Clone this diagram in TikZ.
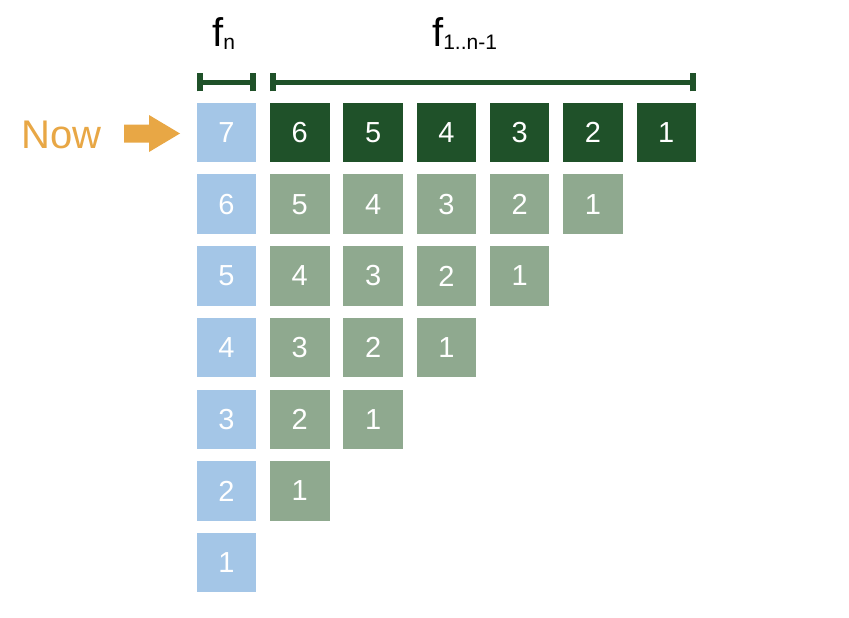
\documentclass[tikz,border=0pt]{standalone}
\usepackage{fontspec}
\setmainfont{Liberation Sans}
\definecolor{cblue}{HTML}{A4C6E7}
\definecolor{cdark}{HTML}{1F5129}
\definecolor{clight}{HTML}{8FA98F}
\definecolor{corange}{HTML}{E8A745}
\newcommand{\mysub}[1]{\raisebox{-3pt}{\fontsize{21}{24}\selectfont #1}}
\begin{document}
\begin{tikzpicture}[x=1pt,y=-1pt,
  cell/.style={minimum width=59.5pt,minimum height=59.5pt,inner sep=0pt,text=white,font=\fontsize{29}{32}\selectfont},
  bluecell/.style={cell,fill=cblue},
  darkcell/.style={cell,fill=cdark},
  lightcell/.style={cell,fill=clight},
  brk/.style={draw=cdark,line width=5pt},
  tick/.style={draw=cdark,line width=6pt},
  lbl/.style={font=\fontsize{40}{44}\selectfont,inner sep=0pt}]
\useasboundingbox (0,0) rectangle (849,618);
% blue column
\foreach \j in {0,...,6}{
  \pgfmathtruncatemacro{\v}{7-\j}
  \node[bluecell] (b\j) at (226.5,132.5+71.7*\j) {\v};
}
% dark row
\foreach \i in {1,...,6}{
  \pgfmathtruncatemacro{\v}{7-\i}
  \node[darkcell] (d\i) at (226.5+73.3*\i,132.5) {\v};
}
% light triangle
\foreach \j in {1,...,5}{
  \pgfmathtruncatemacro{\last}{6-\j}
  \foreach \i in {1,...,\last}{
    \pgfmathtruncatemacro{\v}{7-\j-\i}
    \node[lightcell] (l\j-\i) at (226.5+73.3*\i,132.5+71.7*\j) {\v};
  }
}
% brackets
\coordinate (a1) at (200,82.5);
\coordinate (a2) at (253,82.5);
\coordinate (c1) at (273,82.5);
\coordinate (c2) at (693,82.5);
\draw[brk] (a1) -- (a2);
\draw[tick] ([yshift=-9pt]a1) -- ([yshift=9pt]a1);
\draw[tick] ([yshift=-9pt]a2) -- ([yshift=9pt]a2);
\draw[brk] (c1) -- (c2);
\draw[tick] ([yshift=-9pt]c1) -- ([yshift=9pt]c1);
\draw[tick] ([yshift=-9pt]c2) -- ([yshift=9pt]c2);
% labels
\node[lbl,anchor=base west] (fn) at (212,47) {f\mysub{n}};
\node[lbl,anchor=base west] (f1) at (432,47) {f\mysub{1..n-1}};
% Now arrow
\node[font=\fontsize{40}{44}\selectfont,text=corange,anchor=base west,inner sep=0pt] (now) at (21,148) {Now};
\fill[corange] (124,124.5) -- (149,124.5) -- (149,115) -- (180,133.5) -- (149,152) -- (149,142.5) -- (124,142.5) -- cycle;
\end{tikzpicture}
\end{document}
